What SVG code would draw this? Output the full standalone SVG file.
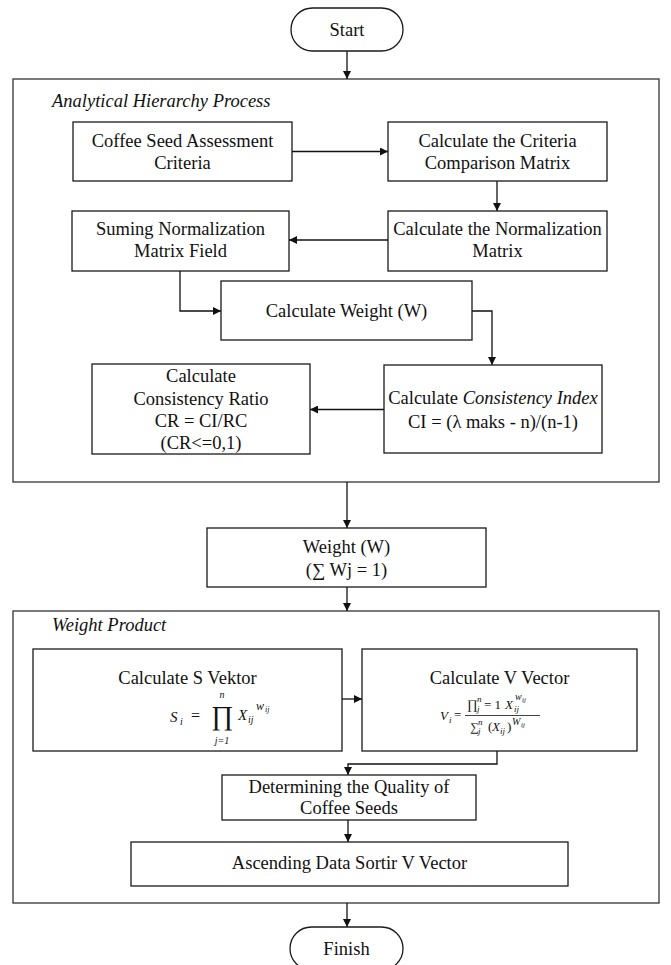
<svg xmlns="http://www.w3.org/2000/svg" width="671" height="965" viewBox="0 0 671 965">
  <defs>
    <marker id="arrow" markerUnits="userSpaceOnUse" markerWidth="8" markerHeight="8" refX="8" refY="4" orient="auto">
      <path d="M0,0 L8,4 L0,8 z" fill="#111"/>
    </marker>
    <style>
      .box { fill: #fff; stroke: #1a1a1a; stroke-width: 1.3; }
      .frame { fill: none; stroke: #333; stroke-width: 1.3; }
      .conn { fill: none; stroke: #111; stroke-width: 1.3; marker-end: url(#arrow); }
      .t { font-family: "Liberation Serif", "Times New Roman", serif; font-size: 18.5px; fill: #111; text-anchor: middle; }
      .ti { font-family: "Liberation Serif", "Times New Roman", serif; font-size: 18.5px; font-style: italic; fill: #111; }
      .m { font-family: "Liberation Serif", "Times New Roman", serif; font-style: italic; fill: #111; }
      .mr { font-family: "Liberation Serif", "Times New Roman", serif; fill: #111; }
    </style>
  </defs>
  <rect width="671" height="965" fill="#fff"/>

  <!-- group frames -->
  <g id="ahp-frame">
    <rect class="frame" x="13" y="79" width="646" height="403"/>
    <text class="ti" x="52" y="107">Analytical Hierarchy Process</text>
  </g>
  <g id="wp-frame">
    <rect class="frame" x="13" y="611" width="646" height="292"/>
    <text class="ti" x="52" y="631">Weight Product</text>
  </g>

  <!-- connectors -->
  <g id="connectors">
    <path class="conn" d="M347,51 V79"/>
    <path class="conn" d="M292,151.5 H388"/>
    <path class="conn" d="M497,181 V211"/>
    <path class="conn" d="M388,240 H289"/>
    <path class="conn" d="M180,271 V311 H221"/>
    <path class="conn" d="M472,311 H492 V365"/>
    <path class="conn" d="M384,409.5 H310"/>
    <path class="conn" d="M347,482 V528"/>
    <path class="conn" d="M347,587 V611"/>
    <path class="conn" d="M342,699 H362"/>
    <path class="conn" d="M497,751 V764 H348 V775"/>
    <path class="conn" d="M348,820 V842"/>
    <path class="conn" d="M347,903 V927"/>
  </g>

  <!-- nodes -->
  <g id="start">
    <rect class="box" x="291" y="8" width="112" height="43" rx="21.5"/>
    <text class="t" x="347" y="36">Start</text>
  </g>

  <g id="criteria">
    <rect class="box" x="73" y="122" width="219" height="59"/>
    <text class="t" x="182.5" y="147">Coffee Seed Assessment</text>
    <text class="t" x="182.5" y="169">Criteria</text>
  </g>

  <g id="comparison-matrix">
    <rect class="box" x="388" y="122" width="219" height="59"/>
    <text class="t" x="497.5" y="147">Calculate the Criteria</text>
    <text class="t" x="497.5" y="169">Comparison Matrix</text>
  </g>

  <g id="normalization-matrix">
    <rect class="box" x="388" y="211" width="219" height="60"/>
    <text class="t" x="497.5" y="235">Calculate the Normalization</text>
    <text class="t" x="497.5" y="257">Matrix</text>
  </g>

  <g id="sum-normalization">
    <rect class="box" x="72" y="211" width="217" height="60"/>
    <text class="t" x="180.5" y="235">Suming Normalization</text>
    <text class="t" x="180.5" y="257">Matrix Field</text>
  </g>

  <g id="calc-weight">
    <rect class="box" x="221" y="281" width="251" height="59"/>
    <text class="t" x="346.5" y="317">Calculate Weight (W)</text>
  </g>

  <g id="consistency-index">
    <rect class="box" x="384" y="365" width="218" height="88"/>
    <text class="t" x="493" y="404">Calculate <tspan font-style="italic">Consistency Index</tspan></text>
    <text class="t" x="493" y="427.5">CI = (λ maks - n)/(n-1)</text>
  </g>

  <g id="consistency-ratio">
    <rect class="box" x="92" y="364" width="218" height="90"/>
    <text class="t" x="201" y="382">Calculate</text>
    <text class="t" x="201" y="404.5">Consistency Ratio</text>
    <text class="t" x="201" y="427">CR = CI/RC</text>
    <text class="t" x="201" y="449">(CR&lt;=0,1)</text>
  </g>

  <g id="weight">
    <rect class="box" x="207" y="528" width="279" height="59"/>
    <text class="t" x="346.5" y="553">Weight (W)</text>
    <text class="t" x="346.5" y="576">(∑ Wj = 1)</text>
  </g>

  <g id="s-vector">
    <rect class="box" x="33" y="649" width="309" height="102"/>
    <text class="t" x="187.5" y="684">Calculate S Vektor</text>
    <!-- S_i = prod_{j=1}^{n} X_ij^{w_ij} -->
    <text class="m" x="170" y="722" font-size="15">S</text>
    <text class="m" x="180" y="725" font-size="10">i</text>
    <text class="mr" x="191" y="721" font-size="16">=</text>
    <text class="mr" x="222" y="725" font-size="27" text-anchor="middle">∏</text>
    <text class="m" x="222" y="698" font-size="10" text-anchor="middle">n</text>
    <text class="m" x="222" y="744" font-size="10" text-anchor="middle">j=1</text>
    <text class="m" x="238" y="720" font-size="15">X</text>
    <text class="m" x="248" y="723" font-size="10">ij</text>
    <text class="m" x="256" y="710" font-size="12">w</text>
    <text class="m" x="265" y="712" font-size="8">ij</text>
  </g>

  <g id="v-vector">
    <rect class="box" x="362" y="649" width="275" height="102"/>
    <text class="t" x="499.5" y="684">Calculate V Vector</text>
    <!-- V_i = prod / sum -->
    <text class="m" x="440" y="720" font-size="13">V</text>
    <text class="m" x="449" y="723" font-size="9">i</text>
    <text class="mr" x="454" y="719" font-size="13">=</text>
    <line x1="465" y1="715.5" x2="540" y2="715.5" stroke="#111" stroke-width="0.8"/>
    <text class="mr" x="467" y="709" font-size="13">∏</text>
    <text class="m" x="477" y="712" font-size="9">j</text>
    <text class="m" x="477" y="702" font-size="9">n</text>
    <text class="mr" x="484" y="709" font-size="13">= 1</text>
    <text class="m" x="505" y="709" font-size="13">X</text>
    <text class="m" x="514" y="712" font-size="9">ij</text>
    <text class="m" x="515" y="700" font-size="10">w</text>
    <text class="m" x="522" y="702" font-size="7">ij</text>
    <text class="mr" x="470" y="731" font-size="12">∑</text>
    <text class="m" x="478" y="734" font-size="9">j</text>
    <text class="m" x="478" y="725" font-size="9">n</text>
    <text class="mr" x="488" y="731" font-size="13">(</text>
    <text class="m" x="492" y="731" font-size="13">X</text>
    <text class="m" x="500" y="734" font-size="9">ij</text>
    <text class="mr" x="507" y="731" font-size="13">)</text>
    <text class="m" x="512" y="725" font-size="10">W</text>
    <text class="m" x="521" y="727" font-size="7">ij</text>
  </g>

  <g id="quality">
    <rect class="box" x="222" y="775" width="254" height="45"/>
    <text class="t" x="349" y="793">Determining the Quality of</text>
    <text class="t" x="349" y="814">Coffee Seeds</text>
  </g>

  <g id="sort">
    <rect class="box" x="131" y="842" width="437" height="44"/>
    <text class="t" x="349.5" y="869">Ascending Data Sortir V Vector</text>
  </g>

  <g id="finish">
    <rect class="box" x="290" y="927" width="113" height="43" rx="21.5"/>
    <text class="t" x="346.5" y="955">Finish</text>
  </g>
</svg>
